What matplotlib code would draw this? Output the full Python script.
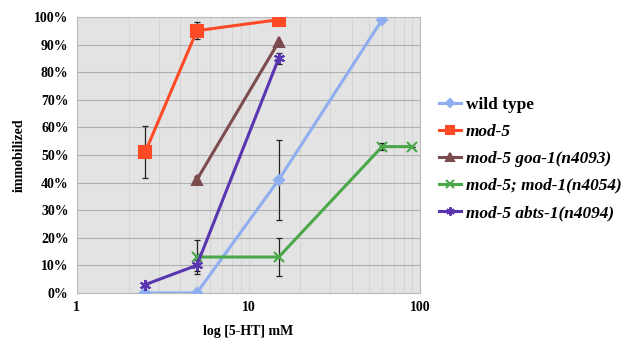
import matplotlib
matplotlib.use("Agg")
import matplotlib.pyplot as plt
from matplotlib.ticker import FixedLocator, NullFormatter, FuncFormatter

x_wt = [2.5, 5, 15, 60]
y_wt = [0, 0, 41, 99]
e_wt = [0, 0, 14.5, 0]

x_m5 = [2.5, 5, 15]
y_m5 = [51, 95, 99]
e_m5 = [9.5, 3, 0]

x_goa = [5, 15]
y_goa = [41, 91]
e_goa = [1.5, 0]

x_mod1 = [5, 15, 60, 90]
y_mod1 = [13, 13, 53, 53]
e_mod1 = [6, 7, 1.2, 0]

x_abts = [2.5, 5, 15]
y_abts = [3, 10, 85]
e_abts = [0, 2, 2]

labels = ["wild type", "mod-5", "mod-5 goa-1(n4093)", "mod-5; mod-1(n4054)", "mod-5 abts-1(n4094)"]
yticks = [0, 10, 20, 30, 40, 50, 60, 70, 80, 90, 100]
xticks = [1, 10, 100]

plt.rcParams['font.family'] = ['Liberation Serif', 'DejaVu Serif']

fig = plt.figure(figsize=(6.3, 3.45), dpi=100)
ax = fig.add_axes([0.122, 0.151, 0.545, 0.80])
ax.set_facecolor('#e3e3e3')

series = [
    (x_wt, y_wt, e_wt, '#8eaef0', 'D', 5, labels[0]),
    (x_m5, y_m5, e_m5, '#ff4a26', 's', 8, labels[1]),
    (x_goa, y_goa, e_goa, '#7b4b4e', '^', 7, labels[2]),
    (x_mod1, y_mod1, e_mod1, '#4aa84a', 'x', 7, labels[3]),
    (x_abts, y_abts, e_abts, '#5a35b0', (6, 2, 0), 8, labels[4]),
]
handles = []
for xs, ys, es, c, m, ms, lab in series:
    ax.errorbar(xs, ys, yerr=es, fmt='none', ecolor='#222222', elinewidth=0.9, capsize=2.5, capthick=0.9, zorder=2)
    h, = ax.plot(xs, ys, color=c, lw=2.2, marker=m, ms=ms, mec=c, mfc=c, mew=1.5, label=lab, zorder=3)
    handles.append(h)

ax.set_xscale('log')
ax.set_xlim(1, 100)
ax.set_ylim(0, 100)
ax.set_yticks(yticks)
ax.yaxis.set_major_formatter(FuncFormatter(lambda v, p: f"{int(v)}%"))
ax.xaxis.set_major_locator(FixedLocator(xticks))
ax.xaxis.set_major_formatter(FuncFormatter(lambda v, p: f"{int(v)}"))
ax.xaxis.set_minor_formatter(NullFormatter())
ax.grid(True, axis='y', which='major', color='#b0b0b0', lw=0.8)
ax.grid(True, axis='x', which='both', color='#d2d2d2', lw=0.6)
ax.tick_params(length=0, which='both', labelsize=10, pad=6)
for lbl in ax.get_xticklabels() + ax.get_yticklabels():
    lbl.set_fontweight('bold')
for s in ax.spines.values():
    s.set_color('#bbbbbb')
    s.set_linewidth(0.8)

ax.set_xlabel('log [5-HT] mM', fontsize=10, fontweight='bold', labelpad=8)
ax.set_ylabel('immobilized', fontsize=10, fontweight='bold', labelpad=6)

leg = fig.legend(handles=handles, loc='upper left', bbox_to_anchor=(0.672, 0.765), frameon=False,
                 prop={'size': 12.4, 'weight': 'bold'}, handlelength=1.3, handletextpad=0.25,
                 labelspacing=0.64, markerscale=0.75)
for i, t in enumerate(leg.get_texts()):
    if i > 0:
        t.set_fontstyle('italic')

fig.savefig('out.png', dpi=100)
